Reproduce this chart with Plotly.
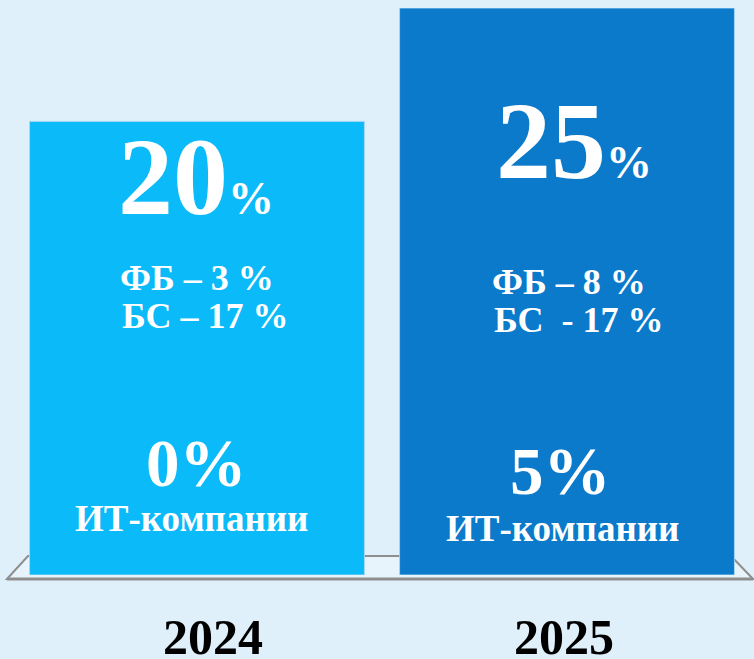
import plotly.graph_objects as go

years = ["2024", "2025"]
total_pct = [20, 25]
fb_pct = [3, 8]
bs_pct = [17, 17]
it_pct = [0, 5]

bar_colors = ["#0bbaf8", "#0b7acb"]
FONT = "Liberation Serif, Times New Roman, serif"

fig = go.Figure()
fig.add_trace(go.Bar(
    x=years, y=total_pct, width=0.905,
    marker=dict(color=bar_colors, line=dict(width=1, color="rgba(170,215,245,0.9)")),
    hoverinfo="skip",
))

# vertical positions (data units) and horizontal shifts (px) of text lines inside bars
pos_big, dx_big = [17.57, 19.14], [-1, 7]
pos_fb, dx_fb = [13.10, 12.92], [0, 1.5]
pos_bs, dx_bs = [11.42, 11.26], [8, 11.5]
pos_itp, dx_itp = [4.93, 4.59], [-1, -7]
pos_itl, dx_itl = [2.50, 2.03], [-6, -5]
dx_year = [16, -3.5]
bs_sep = ["–", " -"]

ann = []
for i, yr in enumerate(years):
    ann.append(dict(x=i, y=pos_big[i], xref="x", yref="y", showarrow=False, yanchor="middle",
                    text=f"<b>{total_pct[i]}<span style='font-size:46px'>%</span></b>",
                    font=dict(family=FONT, size=110, color="white"), xshift=dx_big[i]))
    ann.append(dict(x=i, y=pos_fb[i], xref="x", yref="y", showarrow=False, yanchor="middle",
                    text=f"<b>ФБ – {fb_pct[i]} %</b>",
                    font=dict(family=FONT, size=36, color="white"), xshift=dx_fb[i]))
    ann.append(dict(x=i, y=pos_bs[i], xref="x", yref="y", showarrow=False, yanchor="middle",
                    text=f"<b>БС {bs_sep[i]} {bs_pct[i]} %</b>",
                    font=dict(family=FONT, size=36, color="white"), xshift=dx_bs[i]))
    ann.append(dict(x=i, y=pos_itp[i], xref="x", yref="y", showarrow=False, yanchor="middle",
                    text=f"<b>{it_pct[i]}%</b>",
                    font=dict(family=FONT, size=67, color="white"), xshift=dx_itp[i]))
    ann.append(dict(x=i, y=pos_itl[i], xref="x", yref="y", showarrow=False, yanchor="middle",
                    text="<b>ИТ-компании</b>",
                    font=dict(family=FONT, size=37, color="white"), xshift=dx_itl[i]))
    ann.append(dict(x=i, y=-0.1095, xref="x", yref="paper", showarrow=False, yanchor="middle",
                    text=f"<b>{yr}</b>",
                    font=dict(family=FONT, size=50, color="black"), xshift=dx_year[i]))

# floor (3D base), in paper coordinates so it is not clipped
shapes = [
    dict(type="path", xref="paper", yref="paper", layer="below",
         path="M -0.0068,-0.00705 L 0.0216,0.0335 L 0.9716,0.0335 L 1.0014,-0.00705 Z",
         fillcolor="rgba(232,244,252,1)", line=dict(color="#8e8e8e", width=2)),
    dict(type="line", xref="paper", yref="paper", layer="above",
         x0=-0.0068, x1=1.0014, y0=-0.00705, y1=-0.00705,
         line=dict(color="#8e8e8e", width=3)),
]

fig.update_layout(
    width=754, height=659,
    margin=dict(l=12, r=2, t=8, b=84, autoexpand=False),
    paper_bgcolor="#dff0fa", plot_bgcolor="rgba(0,0,0,0)",
    showlegend=False,
    annotations=ann, shapes=shapes,
    xaxis=dict(type="category", showgrid=False, zeroline=False, showline=False, ticks="",
               showticklabels=False, automargin=False, range=[-0.5, 1.5]),
    yaxis=dict(range=[0, 25], visible=False, fixedrange=True, automargin=False),
)

fig.write_html("out.html", config={"displayModeBar": False},
               post_script="document.body.style.margin='0';document.body.style.background='#dff0fa';")
